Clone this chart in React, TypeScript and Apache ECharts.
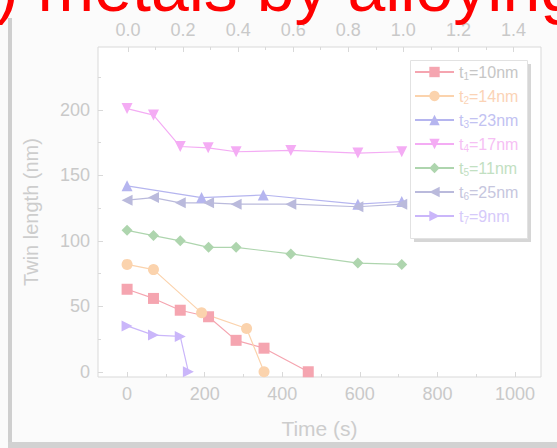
import React, { useEffect, useRef } from 'react';
import * as echarts from 'echarts';

// Series labels: thickness t_i of each twin
const subIndex = ['1', '2', '3', '4', '5', '6', '7'];
const thickness = ['10nm', '14nm', '23nm', '17nm', '11nm', '25nm', '9nm'];

// Time (s) and twin length (nm) per twin
const timeT1 = [0, 68, 137, 210, 281, 353, 467];
const lenT1 = [63, 56, 47, 42, 24, 18, 0];
const timeT2 = [0, 68, 192, 308, 353];
const lenT2 = [82, 78, 45, 33, 0];
const timeT3 = [0, 192, 351, 595, 708];
const lenT3 = [142, 133, 135, 128, 130];
const timeT4 = [0, 68, 137, 209, 281, 422, 595, 708];
const lenT4 = [201, 196, 172, 171, 168, 169, 167, 168];
const timeT5 = [0, 68, 137, 210, 281, 422, 595, 708];
const lenT5 = [108, 104, 100, 95, 95, 90, 83, 82];
const timeT6 = [0, 68, 137, 210, 281, 422, 595, 708];
const lenT6 = [131, 133, 129, 129, 128, 128, 126, 128];
const timeT7 = [0, 68, 137, 158];
const lenT7 = [35, 28, 27, 0];

// Axis ticks
const timeTicks = [0, 200, 400, 600, 800, 1000];
const timeMinor = [100, 300, 500, 700, 900];
const strainTicks = [0, 0.2, 0.4, 0.6, 0.8, 1.0, 1.2, 1.4];
const strainMinor = [0.1, 0.3, 0.5, 0.7, 0.9, 1.1, 1.3];
const lengthTicks = [0, 50, 100, 150, 200];
const lengthMinor = [25, 75, 125, 175, 225];

const times = [timeT1, timeT2, timeT3, timeT4, timeT5, timeT6, timeT7];
const lengths = [lenT1, lenT2, lenT3, lenT4, lenT5, lenT6, lenT7];

const lineColors = ['#f5a5b0', '#fbd3ad', '#b5b5ef', '#f4acf4', '#aed5ae', '#babadc', '#cab6fa'];
const labelColors = ['#c6c6c6', '#fbd3b6', '#c2c2f2', '#f6c0f4', '#c2e0c2', '#c6c6de', '#d6cafa'];
const symbols = [
  'rect',
  'circle',
  'triangle',
  'path://M0,0L10,0L5,8.66Z',
  'diamond',
  'path://M0,5L8.66,0L8.66,10Z',
  'path://M0,0L8.66,5L0,10Z',
];

const FONT = '"Liberation Sans", Arial, Helvetica, sans-serif';
const AXIS_TEXT = '#c9c9c9';
const FRAME = '#d9d9d9';

const names = subIndex.map((s, i) => `t${s}=${thickness[i]}`);

function zip(xs: number[], ys: number[]) {
  return xs.map((x, i) => [x, ys[i]]);
}

function tickAxis(
  position: 'bottom' | 'top' | 'left',
  min: number,
  max: number,
  values: number[],
  length: number,
  labels: boolean,
  extra: Record<string, unknown> = {},
  format: (v: number) => string = (v) => String(v)
) {
  return {
    type: 'value',
    position,
    min,
    max,
    gridIndex: 0,
    axisLine: { show: false, onZero: false },
    splitLine: { show: false },
    axisTick: {
      show: true,
      inside: true,
      length,
      customValues: values,
      lineStyle: { color: FRAME, width: 1 },
    },
    axisLabel: {
      show: labels,
      customValues: values,
      color: AXIS_TEXT,
      fontSize: 18,
      fontFamily: FONT,
      margin: 8,
      formatter: format,
    },
    ...extra,
  };
}

export default function App() {
  const ref = useRef<HTMLDivElement>(null);

  useEffect(() => {
    if (!ref.current) return;
    const chart = echarts.init(ref.current, undefined, { renderer: 'svg' });

    const series = names.map((name, i) => ({
      name,
      type: 'line',
      xAxisIndex: 0,
      yAxisIndex: 0,
      data: zip(times[i], lengths[i]),
      symbol: symbols[i],
      symbolSize: 11,
      showSymbol: true,
      lineStyle: { color: lineColors[i], width: 1.2 },
      itemStyle: { color: lineColors[i] },
      z: 2,
    }));

    const rich: Record<string, unknown> = {};
    labelColors.forEach((c, i) => {
      rich[`m${i}`] = { color: c, fontSize: 16, fontFamily: FONT, lineHeight: 18 };
      rich[`s${i}`] = {
        color: c,
        fontSize: 10,
        fontFamily: FONT,
        lineHeight: 10,
        verticalAlign: 'bottom',
      };
    });

    chart.setOption({
      animation: false,
      backgroundColor: '#fbfbfb',
      grid: {
        left: 98,
        right: 16,
        top: 47,
        bottom: 71,
        show: true,
        backgroundColor: '#ffffff',
        borderColor: FRAME,
        borderWidth: 1,
      },
      xAxis: [
        tickAxis('bottom', -75, 1067, timeTicks, 5, true, {
          name: 'Time (s)',
          nameLocation: 'middle',
          nameGap: 41,
          nameTextStyle: { color: '#cdcdcd', fontSize: 21, fontFamily: FONT },
        }),
        tickAxis('bottom', -75, 1067, timeMinor, 3, false),
        tickAxis('top', -0.109, 1.5, strainTicks, 5, true, {}, (v) => v.toFixed(1)),
        tickAxis('top', -0.109, 1.5, strainMinor, 3, false),
      ],
      yAxis: [
        tickAxis('left', -4, 248, lengthTicks, 5, true, {
          name: 'Twin length (nm)',
          nameLocation: 'middle',
          nameGap: 57,
          nameTextStyle: { color: '#cdcdcd', fontSize: 20, fontFamily: FONT },
        }),
        tickAxis('left', -4, 248, lengthMinor, 3, false),
      ],
      legend: {
        orient: 'vertical',
        left: 414,
        top: 64,
        padding: 0,
        itemWidth: 39,
        itemHeight: 13,
        itemGap: 7,
        z: 6,
        data: names.map((n, i) => ({ name: n, textStyle: { color: labelColors[i] } })),
        formatter: (n: string) => {
          const i = names.indexOf(n);
          return `{m${i}|t}{s${i}|${subIndex[i]}}{m${i}|=${thickness[i]}}`;
        },
        textStyle: { fontSize: 16, fontFamily: FONT, rich },
      },
      graphic: [
        // page frame bars
        { type: 'rect', left: 8, top: 18, shape: { width: 4, height: 430 }, style: { fill: '#cfcfcf' }, z: 1 },
        { type: 'rect', left: 8, top: 442, shape: { width: 549, height: 6 }, style: { fill: '#d2d2d2' }, z: 1 },
        // legend box with drop shadow
        { type: 'rect', left: 414, top: 64, shape: { width: 117, height: 178 }, style: { fill: '#d6d6d6' }, z: 4 },
        {
          type: 'rect',
          left: 410,
          top: 60,
          shape: { width: 117, height: 178 },
          style: { fill: '#ffffff', stroke: '#e2e2e2', lineWidth: 1 },
          z: 5,
        },
        // caption above the figure
        {
          type: 'text',
          x: -4,
          y: -13,
          z: 10,
          style: {
            text: ') metals by alloying',
            fill: '#ff0000',
            fontSize: 68,
            fontFamily: FONT,
            verticalAlign: 'middle',
            align: 'left',
          },
        },
      ],
      series,
    });

    return () => chart.dispose();
  }, []);

  return (
    <div
      ref={ref}
      style={{ position: 'fixed', left: 0, top: 0, width: 557, height: 448 }}
    />
  );
}
